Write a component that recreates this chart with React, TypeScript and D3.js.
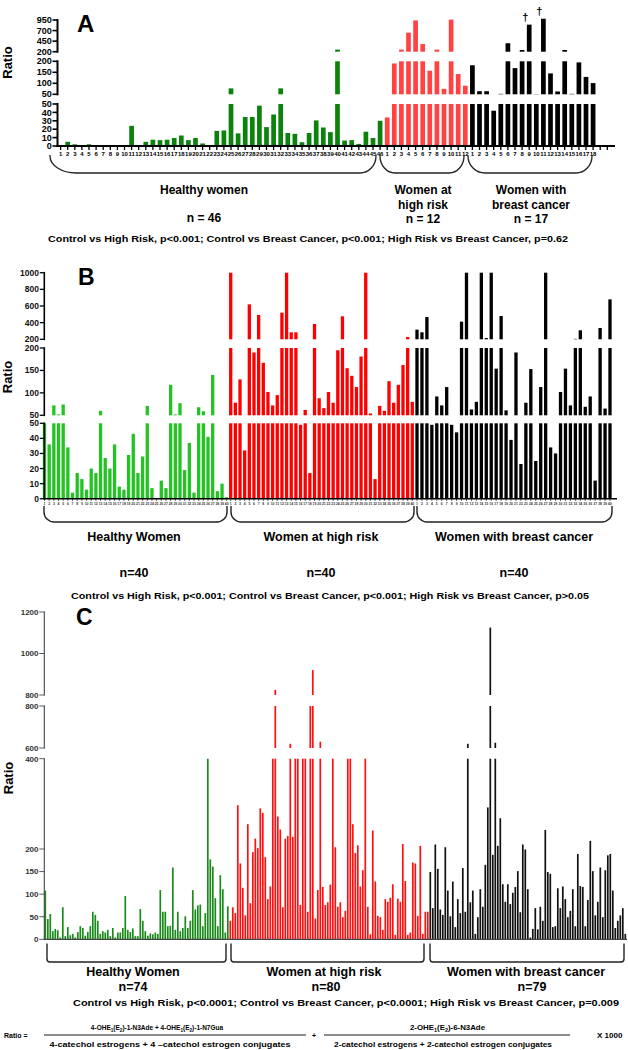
import React from "react";
import * as d3 from "d3";

const FONT = "'Liberation Sans', Arial, Helvetica, sans-serif";

// ---------------- Panel A data ----------------
const aHealthy = [0.5, 5, 2, 1, 2, 0, 0, 0.5, 0.5, 0.5, 24, 0, 5, 7.5, 7, 7.5, 9.5, 12.5, 7, 9.5, 3, 0, 18, 18.5, 77, 15, 34.5, 34.5, 48, 22.5, 37.5, 77, 15.5, 14.5, 4.5, 15.5, 30.5, 22, 16.5, 250, 6.5, 7, 2.5, 17, 9.5, 30];
const aHighRisk = [34, 190, 250, 650, 940, 380, 157, 250, 75, 960, 142, 89];
const aCancer = [182, 64, 64, 42, 52, 400, 169, 240, 840, 51, 980, 145, 63, 240, 52, 195, 129, 101];
const aEmptySlots = 2;
const aYTicksLow = [0, 10, 20, 30, 40, 50];
const aYTicksMid = [50, 100, 150, 200];
const aYTicksTop = [200, 450, 700, 950];
const aDaggers = [9, 11]; // cancer patients marked with a dagger
const aGroupLabels = [["Healthy women"], ["Women at", "high risk"], ["Women with", "breast cancer"]];
const aGroupN = ["n = 46", "n = 12", "n = 17"];
const aStats = "Control vs High Risk, p<0.001; Control vs Breast Cancer, p<0.001; High Risk vs Breast Cancer, p=0.62";

// ---------------- Panel B data ----------------
const bHealthy = [50, 36, 72, 52, 74, 34, 4, 17, 13, 6, 20, 17, 60, 27, 20, 36, 8, 6, 29, 43, 17, 28, 71, 7, 0, 12, 7, 118, 52, 77, 19, 37, 4, 68, 59, 41, 140, 5, 10, 1];
const bHighRisk = [1000, 78, 130, 32, 620, 190, 492, 167, 102, 72, 95, 520, 1000, 284, 284, 49, 62, 17, 384, 88, 66, 102, 78, 195, 476, 155, 138, 113, 181, 1000, 54, 13, 71, 60, 126, 78, 118, 162, 228, 80];
const bCancer = [316, 284, 468, 49, 92, 72, 113, 49, 44, 412, 1000, 63, 80, 1000, 215, 1000, 154, 480, 61, 39, 190, 23, 78, 153, 25, 113, 1000, 34, 30, 102, 154, 72, 205, 308, 69, 92, 12, 336, 65, 680];
const bYTicksLow = [0, 10, 20, 30, 40, 50];
const bYTicksMid = [50, 100, 150, 200];
const bYTicksTop = [200, 400, 600, 800, 1000];
const bGroupLabels = ["Healthy Women", "Women at high risk", "Women with breast cancer"];
const bGroupN = ["n=40", "n=40", "n=40"];
const bStats = "Control vs High Risk, p<0.001; Control vs Breast Cancer, p<0.001; High Risk vs Breast Cancer, p>0.05";

// ---------------- Panel C data ----------------
const cHealthy = [108, 45, 56, 18, 23, 20, 4, 71, 7, 27, 9, 12, 4, 16, 29, 25, 8, 16, 29, 61, 54, 41, 12, 18, 15, 21, 7, 25, 4, 15, 15, 25, 96, 21, 16, 24, 7, 7, 67, 41, 18, 8, 13, 11, 15, 12, 109, 61, 61, 29, 30, 159, 21, 61, 18, 25, 51, 25, 41, 109, 66, 75, 77, 29, 58, 410, 177, 161, 91, 29, 142, 111, 15, 73];
const cHighRisk = [41, 71, 58, 297, 168, 114, 53, 255, 80, 193, 223, 202, 290, 280, 182, 89, 117, 450, 825, 272, 243, 71, 223, 229, 620, 227, 450, 430, 76, 450, 440, 61, 800, 920, 46, 109, 630, 116, 76, 82, 121, 450, 204, 72, 82, 49, 63, 450, 430, 255, 191, 208, 117, 153, 420, 72, 11, 241, 128, 52, 49, 21, 89, 83, 92, 122, 10, 90, 83, 211, 129, 10, 15, 170, 168, 52, 207, 12, 61, 61];
const cCancer = [149, 69, 210, 156, 66, 54, 204, 108, 51, 128, 27, 89, 58, 158, 61, 620, 82, 108, 12, 49, 111, 72, 165, 292, 1125, 187, 625, 207, 268, 122, 83, 122, 78, 103, 116, 151, 60, 210, 199, 111, 4, 23, 69, 22, 72, 41, 242, 149, 145, 27, 29, 113, 69, 117, 89, 49, 63, 111, 29, 189, 118, 116, 29, 87, 218, 151, 53, 83, 159, 49, 153, 186, 189, 108, 25, 41, 53, 69, 12];
const cYTicksLow = [0, 50, 100, 150, 200, 400];
const cYTicksMid = [600, 800];
const cYTicksTop = [800, 1000, 1200];
const cGroupLabels = ["Healthy Women", "Women at high risk", "Women with breast cancer"];
const cGroupN = ["n=74", "n=80", "n=79"];
const cStats = "Control vs High Risk, p<0.0001; Control vs Breast Cancer, p<0.0001; High Risk vs Breast Cancer, p=0.009";

type Seg = { domain: [number, number]; range: [number, number]; ticks: number[]; cap?: number };

function segBars(values: number[], xs: (i: number) => number, w: number, segs: Seg[], color: string, key: string) {
  const out: any[] = [];
  values.forEach((v, i) => {
    segs.forEach((s, j) => {
      if (v <= s.domain[0]) return;
      const sc = d3.scaleLinear().domain(s.domain).range(s.range);
      const top = sc(Math.min(v, s.cap ?? s.domain[1]));
      const bottom = sc(s.domain[0]);
      out.push(
        <rect key={`${key}-${i}-${j}`} x={xs(i) - w / 2} y={top} width={w} height={Math.max(0, bottom - top)} fill={color} />
      );
    });
  });
  return out;
}

function YAxis({ x, segs, tickLen, fontSize, color, sw, textColor }: any) {
  return (
    <g>
      {segs.map((s: Seg, j: number) => {
        const sc = d3.scaleLinear().domain(s.domain).range(s.range);
        return (
          <g key={j}>
            <line x1={x} x2={x} y1={s.range[0] + sw / 2} y2={s.range[1] - sw / 2} stroke={color} strokeWidth={sw} />
            {s.ticks.map((t) => (
              <g key={t}>
                <line x1={x - tickLen} x2={x} y1={sc(t)} y2={sc(t)} stroke={color} strokeWidth={sw * 0.8} />
                <text x={x - tickLen - 0.8} y={sc(t)} dy="0.35em" textAnchor="end" fontSize={fontSize} fontWeight="bold" fill={textColor}>
                  {t}
                </text>
              </g>
            ))}
          </g>
        );
      })}
    </g>
  );
}

function bracePath(x0: number, x1: number, yT: number, yB: number, rx0: number, rx1: number, ry: number) {
  return `M${x0},${yT} L${x0},${yB - ry} A${rx0},${ry} 0 0 0 ${x0 + rx0},${yB} L${x1 - rx1},${yB} A${rx1},${ry} 0 0 0 ${x1},${yB - ry} L${x1},${yT}`;
}

function RatioLabel({ x, y }: { x: number; y: number }) {
  return (
    <text transform={`translate(${x},${y}) rotate(-90)`} textAnchor="middle" fontSize={13} fontWeight="bold">
      Ratio
    </text>
  );
}

function PanelA() {
  const nSlots = aHealthy.length + aHighRisk.length + aCancer.length + aEmptySlots;
  const x = d3.scalePoint<number>().domain(d3.range(nSlots)).range([60.6, 607.3]);
  const segs: Seg[] = [
    { domain: [0, 50], range: [146, 104], ticks: aYTicksLow },
    { domain: [50, 200], range: [94.3, 61.3], ticks: aYTicksMid },
    { domain: [200, 950], range: [51.7, 20], ticks: aYTicksTop, cap: 1000 },
  ];
  const o1 = aHealthy.length;
  const o2 = o1 + aHighRisk.length;
  const labels = [
    ...d3.range(1, aHealthy.length + 1),
    ...d3.range(1, aHighRisk.length + 1),
    ...d3.range(1, aCancer.length + 1),
  ];
  const w = 4.7;
  const braces = [
    [50, 376, 26, 16],
    [380, 464, 15, 15],
    [468, 592, 17, 16],
  ];
  const centers = [204, 423, 531];
  return (
    <g>
      <text x={77} y={32} fontSize={24} fontWeight="bold">A</text>
      <RatioLabel x={12.3} y={62.5} />
      {segBars(aHealthy, (i) => x(i)!, w, segs, "#0b820b", "ah")}
      {segBars(aHighRisk, (i) => x(i + o1)!, w, segs, "#ff4343", "ar")}
      {segBars(aCancer, (i) => x(i + o2)!, w, segs, "#000", "ac")}
      {aDaggers.map((d) => {
        const v = aCancer[d - 1];
        const top = d3.scaleLinear().domain([200, 950]).range([51.7, 20])(v);
        return (
          <text key={d} x={x(o2 + d - 1)! - 4} y={top - 4} textAnchor="middle" fontSize={11} fontWeight="bold">†</text>
        );
      })}
      <YAxis x={57.5} segs={segs} tickLen={5} fontSize={9} color="#000" sw={2} textColor="#000" />
      <line x1={56.5} x2={615} y1={146} y2={146} stroke="#000" strokeWidth={2} />
      {d3.range(nSlots).map((i) => (
        <line key={i} x1={x(i)!} x2={x(i)!} y1={146} y2={150} stroke="#000" strokeWidth={1.3} />
      ))}
      {labels.map((l, i) => (
        <text key={i} x={x(i)!} y={156} textAnchor="middle" fontSize={6} fontWeight="bold">{l}</text>
      ))}
      {braces.map((b, i) => (
        <path key={i} d={bracePath(b[0], b[1], 155, 173, b[2], b[3], 17)} fill="none" stroke="#222" strokeWidth={1.3} />
      ))}
      {aGroupLabels.map((lines, i) =>
        lines.map((t, k) => (
          <text key={`${i}-${k}`} x={centers[i]} y={190 + k * 14.5} dy="0.35em" textAnchor="middle" fontSize={12} fontWeight="bold">{t}</text>
        ))
      )}
      {aGroupN.map((t, i) => (
        <text key={i} x={centers[i]} y={i === 0 ? 218 : 219} dy="0.35em" textAnchor="middle" fontSize={12} fontWeight="bold">{t}</text>
      ))}
      <text x={48} y={239} dy="0.35em" fontSize={9.5} fontWeight="bold" textLength={520} lengthAdjust="spacingAndGlyphs">{aStats}</text>
    </g>
  );
}

function PanelB() {
  const segs: Seg[] = [
    { domain: [0, 50], range: [498.7, 423.3], ticks: bYTicksLow },
    { domain: [50, 200], range: [415.3, 348], ticks: bYTicksMid },
    { domain: [200, 1000], range: [339.3, 272.7], ticks: bYTicksTop },
  ];
  const groups = [
    { v: bHealthy, r: [44.5, 226.7], c: "#22c322" },
    { v: bHighRisk, r: [230.7, 412.3], c: "#ff0000" },
    { v: bCancer, r: [417, 610], c: "#000" },
  ];
  const w = 3.3;
  const centers = [134, 321, 514];
  const braces = [
    [44, 227],
    [231, 414],
    [417, 612],
  ];
  return (
    <g>
      <text x={78} y={285} fontSize={23} fontWeight="bold">B</text>
      <RatioLabel x={12.3} y={377} />
      {groups.map((g, gi) => {
        const x = d3.scalePoint<number>().domain(d3.range(g.v.length)).range(g.r as [number, number]);
        return (
          <g key={gi}>
            {segBars(g.v, (i) => x(i)!, w, segs, g.c, "b" + gi)}
            {g.v.map((_, i) => (
              <line key={"t" + i} x1={x(i)!} x2={x(i)!} y1={498.7} y2={501} stroke="#000" strokeWidth={0.6} />
            ))}
            {g.v.map((_, i) => (
              <text key={"l" + i} x={x(i)!} y={504.5} textAnchor="middle" fontSize={3.4} fontWeight="bold" fill="#333">{i + 1}</text>
            ))}
          </g>
        );
      })}
      <YAxis x={44.3} segs={segs} tickLen={4.5} fontSize={8.5} color="#000" sw={1.6} textColor="#111" />
      <line x1={43.5} x2={617} y1={498.7} y2={498.7} stroke="#000" strokeWidth={1.6} />
      {braces.map((b, i) => (
        <path key={i} d={bracePath(b[0], b[1], 506, 522, 10, 10, 10)} fill="none" stroke="#222" strokeWidth={1.4} />
      ))}
      {bGroupLabels.map((t, i) => (
        <text key={i} x={centers[i]} y={537} dy="0.35em" textAnchor="middle" fontSize={12.5} fontWeight="bold">{t}</text>
      ))}
      {bGroupN.map((t, i) => (
        <text key={i} x={centers[i]} y={573} dy="0.35em" textAnchor="middle" fontSize={12.5} fontWeight="bold">{t}</text>
      ))}
      <text x={71} y={596} dy="0.35em" fontSize={9.5} fontWeight="bold" textLength={518} lengthAdjust="spacingAndGlyphs">{bStats}</text>
    </g>
  );
}

function PanelC() {
  const segs: Seg[] = [
    { domain: [0, 400], range: [939.3, 758.7], ticks: cYTicksLow },
    { domain: [600, 800], range: [748, 706], ticks: cYTicksMid },
    { domain: [800, 1200], range: [695, 612], ticks: cYTicksTop },
  ];
  const n = cHealthy.length + cHighRisk.length + cCancer.length;
  const x = d3.scalePoint<number>().domain(d3.range(n)).range([45.3, 625.3]);
  const o1 = cHealthy.length;
  const o2 = o1 + cHighRisk.length;
  const w = 1.7;
  const braces = [
    [47, 226],
    [231, 424],
    [430, 624],
  ];
  const centers = [133, 324, 526];
  const nCenters = [133, 326, 532];
  return (
    <g>
      <text x={76} y={625} fontSize={23} fontWeight="bold">C</text>
      <RatioLabel x={13.3} y={778} />
      {segBars(cHealthy, (i) => x(i)!, w, segs, "#1a8a1a", "ch")}
      {segBars(cHighRisk, (i) => x(i + o1)!, w, segs, "#ff1010", "cr")}
      {segBars(cCancer, (i) => x(i + o2)!, w, segs, "#111", "cc")}
      <YAxis x={44.3} segs={segs} tickLen={5} fontSize={8} color="#444" sw={1.1} textColor="#333" />
      <line x1={43.8} x2={627} y1={939.3} y2={939.3} stroke="#444" strokeWidth={1.2} />
      {braces.map((b, i) => (
        <path key={i} d={bracePath(b[0], b[1], 943.5, 962, 3, 3, 3)} fill="none" stroke="#222" strokeWidth={1.4} />
      ))}
      {cGroupLabels.map((t, i) => (
        <text key={i} x={centers[i]} y={971.5} dy="0.35em" textAnchor="middle" fontSize={12.5} fontWeight="bold">{t}</text>
      ))}
      {cGroupN.map((t, i) => (
        <text key={i} x={nCenters[i]} y={986.5} dy="0.35em" textAnchor="middle" fontSize={12.5} fontWeight="bold">{t}</text>
      ))}
      <text x={73} y={1003} dy="0.35em" fontSize={9.5} fontWeight="bold" textLength={546} lengthAdjust="spacingAndGlyphs">{cStats}</text>
    </g>
  );
}

function Formula() {
  return (
    <g fontWeight="bold" fontSize={7}>
      <text x={4} y={1038}>Ratio =</text>
      <g transform="translate(157,1030) scale(0.93,1)">
        <text x={0} y={0} textAnchor="middle">
          4-OHE<tspan dy={1.6} fontSize={5}>1</tspan><tspan dy={-1.6}>(E</tspan><tspan dy={1.6} fontSize={5}>2</tspan><tspan dy={-1.6}>)-1-N3Ade + 4-OHE</tspan><tspan dy={1.6} fontSize={5}>1</tspan><tspan dy={-1.6}>(E</tspan><tspan dy={1.6} fontSize={5}>2</tspan><tspan dy={-1.6}>)-1-N7Gua</tspan>
        </text>
      </g>
      <line x1={44} x2={306} y1={1035} y2={1035} stroke="#000" strokeWidth={0.9} />
      <text x={170} y={1047} textAnchor="middle" textLength={241} lengthAdjust="spacingAndGlyphs">4-catechol estrogens + 4 –catechol estrogen conjugates</text>
      <text x={314} y={1038} textAnchor="middle">+</text>
      <g transform="translate(447.5,1030) scale(1.05,1)">
        <text x={0} y={0} textAnchor="middle" fontSize={7.5}>
          2-OHE<tspan dy={1.6} fontSize={5.2}>1</tspan><tspan dy={-1.6}>(E</tspan><tspan dy={1.6} fontSize={5.2}>2</tspan><tspan dy={-1.6}>)-6-N3Ade</tspan>
        </text>
      </g>
      <line x1={324} x2={570} y1={1035} y2={1035} stroke="#000" strokeWidth={0.9} />
      <text x={443} y={1047} textAnchor="middle" textLength={218} lengthAdjust="spacingAndGlyphs">2-catechol estrogens + 2-catechol estrogen conjugates</text>
      <text x={597} y={1038} fontSize={8}>X 1000</text>
    </g>
  );
}

export default function App() {
  return (
    <svg
      width={628}
      height={1050}
      viewBox="0 0 628 1050"
      style={{ position: "absolute", left: 0, top: 0, display: "block", background: "#fff" }}
      fontFamily={FONT}
    >
      <rect width={628} height={1050} fill="#fff" />
      <PanelA />
      <PanelB />
      <PanelC />
      <Formula />
    </svg>
  );
}
